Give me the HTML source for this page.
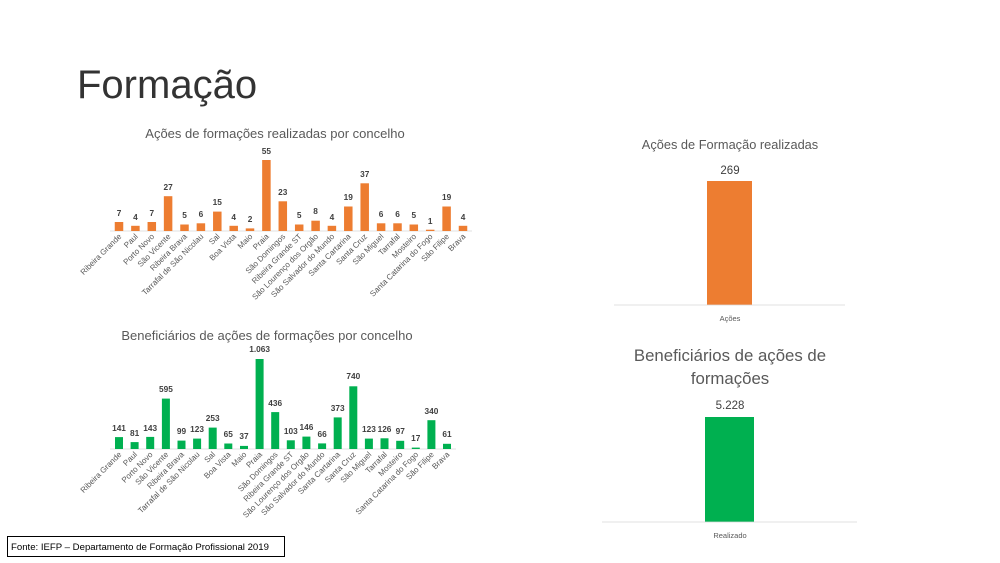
<!DOCTYPE html>
<html><head><meta charset="utf-8"><style>
body{margin:0;background:#fff;width:1000px;height:563px;overflow:hidden}
svg{display:block;font-family:"Liberation Sans",sans-serif}
.v{font-size:8.3px;font-weight:bold;fill:#404040;text-anchor:middle}
.c{font-size:8px;fill:#595959;text-anchor:end}
</style></head><body>
<svg width="1000" height="563" viewBox="0 0 1000 563">
<text x="77" y="98" font-size="40" fill="#333" font-family="Liberation Sans, sans-serif">Formação</text>

<!-- top chart -->
<text x="275" y="138" font-size="13" fill="#595959" text-anchor="middle">Ações de formações realizadas por concelho</text>
<line x1="110" y1="231" x2="472" y2="231" stroke="#d9d9d9" stroke-width="0.8"/>
<g fill="#ED7D31">
<rect x="114.75" y="222" width="8.5" height="9"/>
<rect x="131.15" y="225.8" width="8.5" height="5.2"/>
<rect x="147.55" y="222" width="8.5" height="9"/>
<rect x="163.85" y="196.2" width="8.5" height="34.8"/>
<rect x="180.25" y="224.5" width="8.5" height="6.5"/>
<rect x="196.65" y="223.3" width="8.5" height="7.7"/>
<rect x="213.05" y="211.6" width="8.5" height="19.4"/>
<rect x="229.45" y="225.8" width="8.5" height="5.2"/>
<rect x="245.75" y="228.4" width="8.5" height="2.6"/>
<rect x="262.15" y="160" width="8.5" height="71"/>
<rect x="278.55" y="201.3" width="8.5" height="29.7"/>
<rect x="294.95" y="224.5" width="8.5" height="6.5"/>
<rect x="311.35" y="220.7" width="8.5" height="10.3"/>
<rect x="327.65" y="225.8" width="8.5" height="5.2"/>
<rect x="344.05" y="206.5" width="8.5" height="24.5"/>
<rect x="360.45" y="183.3" width="8.5" height="47.7"/>
<rect x="376.85" y="223.3" width="8.5" height="7.7"/>
<rect x="393.25" y="223.3" width="8.5" height="7.7"/>
<rect x="409.55" y="224.5" width="8.5" height="6.5"/>
<rect x="425.95" y="229.7" width="8.5" height="1.3"/>
<rect x="442.35" y="206.5" width="8.5" height="24.5"/>
<rect x="458.75" y="225.8" width="8.5" height="5.2"/>
</g>
<g class="v">
<text x="119" y="216">7</text><text x="135.4" y="220">4</text><text x="151.8" y="216">7</text><text x="168.1" y="190">27</text><text x="184.5" y="218">5</text><text x="200.9" y="217">6</text><text x="217.3" y="205">15</text><text x="233.7" y="220">4</text><text x="250" y="222">2</text><text x="266.4" y="154">55</text><text x="282.8" y="195">23</text><text x="299.2" y="218">5</text><text x="315.6" y="214">8</text><text x="331.9" y="220">4</text><text x="348.3" y="200">19</text><text x="364.7" y="177">37</text><text x="381.1" y="217">6</text><text x="397.5" y="217">6</text><text x="413.8" y="218">5</text><text x="430.2" y="224">1</text><text x="446.6" y="200">19</text><text x="463" y="220">4</text>
</g>
<g class="c">
<text transform="translate(122,237) rotate(-45)">Ribeira Grande</text>
<text transform="translate(138.4,237) rotate(-45)">Paul</text>
<text transform="translate(154.8,237) rotate(-45)">Porto Novo</text>
<text transform="translate(171.1,237) rotate(-45)">São Vicente</text>
<text transform="translate(187.5,237) rotate(-45)">Ribeira Brava</text>
<text transform="translate(203.9,237) rotate(-45)">Tarrafal de São Nicolau</text>
<text transform="translate(220.3,237) rotate(-45)">Sal</text>
<text transform="translate(236.7,237) rotate(-45)">Boa Vista</text>
<text transform="translate(253,237) rotate(-45)">Maio</text>
<text transform="translate(269.4,237) rotate(-45)">Praia</text>
<text transform="translate(285.8,237) rotate(-45)">São Domingos</text>
<text transform="translate(302.2,237) rotate(-45)">Ribeira Grande ST</text>
<text transform="translate(318.6,237) rotate(-45)">São Lourenço dos Orgão</text>
<text transform="translate(334.9,237) rotate(-45)">São Salvador do Mundo</text>
<text transform="translate(351.3,237) rotate(-45)">Santa Cartarina</text>
<text transform="translate(367.7,237) rotate(-45)">Santa Cruz</text>
<text transform="translate(384.1,237) rotate(-45)">São Miguel</text>
<text transform="translate(400.5,237) rotate(-45)">Tarrafal</text>
<text transform="translate(416.8,237) rotate(-45)">Mosteiro</text>
<text transform="translate(433.2,237) rotate(-45)">Santa Catarina do Fogo</text>
<text transform="translate(449.6,237) rotate(-45)">São Filipe</text>
<text transform="translate(466,237) rotate(-45)">Brava</text>
</g>

<!-- bottom chart -->
<text x="267" y="340" font-size="13" fill="#595959" text-anchor="middle">Beneficiários de ações de formações por concelho</text>
<line x1="110" y1="449" x2="456" y2="449" stroke="#d9d9d9" stroke-width="0.8"/>
<g fill="#00B050">
<rect x="115" y="437.1" width="8" height="11.9"/>
<rect x="130.6" y="442.1" width="8" height="6.9"/>
<rect x="146.2" y="436.9" width="8" height="12.1"/>
<rect x="161.9" y="398.6" width="8" height="50.4"/>
<rect x="177.5" y="440.6" width="8" height="8.4"/>
<rect x="193.1" y="438.6" width="8" height="10.4"/>
<rect x="208.7" y="427.6" width="8" height="21.4"/>
<rect x="224.3" y="443.5" width="8" height="5.5"/>
<rect x="240" y="445.9" width="8" height="3.1"/>
<rect x="255.6" y="359" width="8" height="90"/>
<rect x="271.2" y="412.1" width="8" height="36.9"/>
<rect x="286.8" y="440.3" width="8" height="8.7"/>
<rect x="302.4" y="436.6" width="8" height="12.4"/>
<rect x="318.1" y="443.4" width="8" height="5.6"/>
<rect x="333.7" y="417.4" width="8" height="31.6"/>
<rect x="349.3" y="386.3" width="8" height="62.7"/>
<rect x="364.9" y="438.6" width="8" height="10.4"/>
<rect x="380.5" y="438.3" width="8" height="10.7"/>
<rect x="396.2" y="440.8" width="8" height="8.2"/>
<rect x="411.8" y="447.6" width="8" height="1.4"/>
<rect x="427.4" y="420.2" width="8" height="28.8"/>
<rect x="443" y="443.8" width="8" height="5.2"/>
</g>
<g class="v">
<text x="119" y="431">141</text><text x="134.6" y="436">81</text><text x="150.2" y="431">143</text><text x="165.9" y="392">595</text><text x="181.5" y="434">99</text><text x="197.1" y="432">123</text><text x="212.7" y="421">253</text><text x="228.3" y="437">65</text><text x="244" y="439">37</text><text x="259.6" y="352">1.063</text><text x="275.2" y="406">436</text><text x="290.8" y="434">103</text><text x="306.4" y="430">146</text><text x="322.1" y="437">66</text><text x="337.7" y="411">373</text><text x="353.3" y="379">740</text><text x="368.9" y="432">123</text><text x="384.5" y="432">126</text><text x="400.2" y="434">97</text><text x="415.8" y="441">17</text><text x="431.4" y="414">340</text><text x="447" y="437">61</text>
</g>
<g class="c">
<text transform="translate(122,455) rotate(-45)">Ribeira Grande</text>
<text transform="translate(137.6,455) rotate(-45)">Paul</text>
<text transform="translate(153.2,455) rotate(-45)">Porto Novo</text>
<text transform="translate(168.9,455) rotate(-45)">São Vicente</text>
<text transform="translate(184.5,455) rotate(-45)">Ribeira Brava</text>
<text transform="translate(200.1,455) rotate(-45)">Tarrafal de São Nicolau</text>
<text transform="translate(215.7,455) rotate(-45)">Sal</text>
<text transform="translate(231.3,455) rotate(-45)">Boa Vista</text>
<text transform="translate(247,455) rotate(-45)">Maio</text>
<text transform="translate(262.6,455) rotate(-45)">Praia</text>
<text transform="translate(278.2,455) rotate(-45)">São Domingos</text>
<text transform="translate(293.8,455) rotate(-45)">Ribeira Grande ST</text>
<text transform="translate(309.4,455) rotate(-45)">São Lourenço dos Orgão</text>
<text transform="translate(325.1,455) rotate(-45)">São Salvador do Mundo</text>
<text transform="translate(340.7,455) rotate(-45)">Santa Cartarina</text>
<text transform="translate(356.3,455) rotate(-45)">Santa Cruz</text>
<text transform="translate(371.9,455) rotate(-45)">São Miguel</text>
<text transform="translate(387.5,455) rotate(-45)">Tarrafal</text>
<text transform="translate(403.2,455) rotate(-45)">Mosteiro</text>
<text transform="translate(418.8,455) rotate(-45)">Santa Catarina do Fogo</text>
<text transform="translate(434.4,455) rotate(-45)">São Filipe</text>
<text transform="translate(450,455) rotate(-45)">Brava</text>
</g>

<!-- right top -->
<text x="730" y="149" font-size="12.8" fill="#595959" text-anchor="middle">Ações de Formação realizadas</text>
<text x="730" y="174" font-size="11.5" fill="#404040" text-anchor="middle">269</text>
<rect x="707" y="181" width="45" height="124" fill="#ED7D31"/>
<line x1="614" y1="305" x2="845" y2="305" stroke="#d9d9d9" stroke-width="0.8"/>
<text x="730" y="321" font-size="7.5" fill="#595959" text-anchor="middle">Ações</text>

<!-- right bottom -->
<text x="730" y="361" font-size="16.8" fill="#595959" text-anchor="middle">Beneficiários de ações de</text>
<text x="730" y="384" font-size="16.8" fill="#595959" text-anchor="middle">formações</text>
<text x="730" y="409" font-size="11.5" fill="#404040" text-anchor="middle">5.228</text>
<rect x="705" y="417" width="49" height="105" fill="#00B050"/>
<line x1="602" y1="522" x2="857" y2="522" stroke="#d9d9d9" stroke-width="0.8"/>
<text x="730" y="538" font-size="7.5" fill="#595959" text-anchor="middle">Realizado</text>

<!-- footer -->
<rect x="7.5" y="536.5" width="277" height="20" fill="#fff" stroke="#000" stroke-width="1"/>
<text x="11" y="550" font-size="9.6" fill="#000">Fonte: IEFP – Departamento de Formação Profissional 2019</text>
</svg>
</body></html>
